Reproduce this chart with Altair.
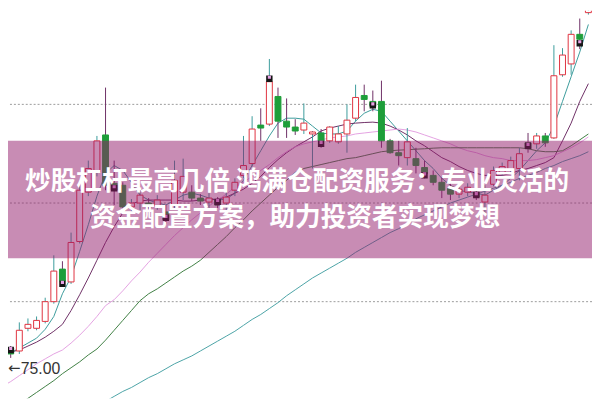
import altair as alt
import pandas as pd

# ---- data (price units; 75.00 is the marked low) ----
opens = [75.50,75.90,75.75,76.90,76.90,77.25,78.25,79.90,79.25,81.30,
         83.80,84.80,86.70,84.25,84.15,83.05,83.25,83.25,83.10,82.80,
         83.15,83.80,83.80,83.50,83.30,83.40,83.25,83.90,84.65,85.25,
         87.20,87.25,88.65,87.40,87.10,86.95,86.75,86.80,86.40,86.35,
         86.75,87.55,88.70,88.40,88.40,86.40,85.80,85.55,85.50,85.05,
         84.65,84.30,84.00,83.70,83.80,83.80,83.30,84.20,84.80,84.90,
         85.00,86.30,86.25,86.65,86.55,89.75,90.30,91.80,92.90]
closes = [75.90,75.60,76.80,77.10,77.30,78.25,79.80,79.30,81.25,83.90,
          85.00,86.40,84.15,83.90,83.05,83.25,83.65,83.05,83.40,82.40,
          84.40,84.60,83.50,83.35,83.50,83.15,83.55,84.30,85.15,87.00,
          87.05,89.40,87.40,87.10,86.90,87.30,86.85,86.40,87.10,86.75,
          87.45,88.60,88.50,88.15,86.40,85.80,85.65,86.35,85.15,84.75,
          84.30,83.90,83.70,83.95,84.05,83.55,83.65,84.90,85.10,85.40,
          85.75,86.00,86.65,86.30,89.70,90.75,91.80,91.55,93.90]
highs = [76.05,76.00,77.20,77.40,77.50,78.45,80.60,80.30,81.75,84.15,
         85.40,86.65,89.10,85.40,84.30,83.45,83.90,83.50,83.65,83.15,
         85.40,85.50,84.15,83.70,83.75,83.55,83.80,84.50,86.65,87.65,
         88.05,90.55,89.10,88.55,87.50,88.30,86.90,87.00,87.15,87.15,
         88.25,89.25,89.25,88.95,89.45,86.50,86.40,87.05,86.05,85.40,
         84.90,84.55,84.30,84.20,84.25,84.00,84.15,85.10,85.30,85.60,
         86.05,86.80,86.80,86.80,91.25,91.10,92.00,92.60,94.40]
lows = [75.00,75.40,75.60,76.75,76.80,77.15,78.15,79.00,79.15,81.20,
        83.60,84.60,83.90,83.15,82.95,82.80,82.90,82.85,82.90,82.20,
        83.00,83.40,83.35,83.15,82.90,83.00,82.90,83.60,84.50,85.10,
        86.40,87.15,86.55,86.55,86.70,86.75,85.00,86.05,86.30,86.25,
        85.80,87.40,87.90,87.90,86.05,85.75,85.15,85.15,84.75,84.50,
        84.15,83.50,83.40,83.50,83.60,83.40,82.75,84.10,84.60,84.75,
        84.40,85.80,86.00,86.10,86.50,89.65,89.75,91.05,92.80]

marker_idx = [1, 7, 13, 19, 25, 31, 37, 43, 49, 55, 61, 67]
marker_price = [75.80, 79.15, 84.00, 82.50, 83.30, 89.55, 86.25, 88.20, 84.65, 83.65, 86.15, 91.35]

ma5 = [75.55,75.65,75.90,76.15,76.40,76.85,77.50,78.65,79.50,80.80,
       82.15,83.60,84.75,85.15,84.90,84.30,83.65,83.40,83.25,83.15,
       83.40,83.65,83.75,83.65,83.50,83.40,83.45,83.75,84.40,85.15,
       85.90,86.65,87.30,87.55,87.55,87.50,87.15,86.80,86.75,86.75,
       86.90,87.40,87.80,88.00,87.90,87.40,86.90,86.40,85.90,85.40,
       85.00,84.50,84.15,83.90,83.80,83.75,83.65,83.90,84.15,84.50,
       84.90,85.40,85.90,86.30,87.15,88.40,89.65,90.90,92.30]
ma10 = [75.60,75.70,75.80,76.00,76.20,76.45,76.75,77.10,77.80,78.60,
        79.45,80.35,81.25,82.05,82.75,83.20,83.35,83.40,83.40,83.40,
        83.40,83.35,83.35,83.40,83.40,83.45,83.55,83.75,83.95,84.25,
        84.60,85.05,85.45,85.80,86.10,86.35,86.60,86.90,87.05,87.15,
        87.25,87.30,87.33,87.35,87.30,87.15,86.95,86.70,86.40,86.15,
        85.85,85.55,85.35,85.10,84.90,84.75,84.65,84.65,84.65,84.75,
        84.90,85.00,85.15,85.30,85.55,86.40,87.30,88.40,89.30]
ma20 = [73.95,74.20,74.50,74.80,75.10,75.35,75.60,75.80,76.15,76.55,
        77.00,77.50,78.05,78.35,78.80,79.30,79.75,80.25,80.70,81.15,
        81.60,82.00,82.40,82.75,83.10,83.40,83.70,84.05,84.30,84.60,
        84.90,85.20,85.55,85.85,86.10,86.25,86.35,86.45,86.55,86.60,
        86.65,86.75,86.80,86.85,86.90,86.95,87.00,86.95,86.85,86.70,
        86.55,86.40,86.25,86.05,85.90,85.80,85.65,85.55,85.50,85.40,
        85.40,85.40,85.45,85.55,85.65,85.85,86.05,86.30,86.60]
ma30 = [72.40,72.70,73.05,73.35,73.65,73.95,74.25,74.60,74.90,75.20,
        75.55,75.85,76.30,76.80,77.30,77.80,78.30,78.65,78.90,79.20,
        79.50,79.80,80.05,80.35,80.75,81.15,81.55,82.00,82.40,82.85,
        83.25,83.65,84.05,84.40,84.80,85.00,85.10,85.20,85.30,85.40,
        85.50,85.55,85.65,85.75,85.85,85.90,85.93,85.95,85.98,86.00,
        86.03,86.05,86.05,86.05,86.05,86.05,86.05,86.05,86.05,86.05,
        86.05,86.00,85.90,85.85,85.85,85.90,86.15,86.45,86.75]
ma60 = [None] * 11 + [
        73.00,73.20,73.45,73.70,73.90,74.15,74.40,74.60,74.85,75.10,
        75.30,75.50,75.75,76.00,76.25,76.50,76.75,77.05,77.35,77.60,
        77.90,78.20,78.55,78.85,79.15,79.45,79.70,79.95,80.20,80.45,
        80.75,81.00,81.25,81.50,81.75,81.95,82.20,82.45,82.65,82.85,
        83.05,83.25,83.40,83.55,83.70,83.85,84.00,84.15,84.30,84.50,
        84.65,84.80,85.00,85.15,85.35,85.50,85.65,85.85]

grid_prices = [93.25, 88.25, 83.25, 78.25]
low_label = "75.00"
title_lines = ["炒股杠杆最高几倍 鸿满仓配资服务：专业灵活的", "资金配置方案，助力投资者实现梦想"]

# ---- frames ----
n = len(opens)
idx = list(range(n))
candles = pd.DataFrame({"i": idx, "open": opens, "close": closes,
                        "high": highs, "low": lows})
candles["dir"] = ["up" if c >= o else "down" for o, c in zip(opens, closes)]

series = {"MA5": ma5, "MA10": ma10, "MA20": ma20, "MA30": ma30, "MA60": ma60}
rows = []
for name, vals in series.items():
    for i, v in enumerate(vals):
        if v is not None:
            rows.append({"i": i, "v": v, "s": name})
lines = pd.DataFrame(rows)
markers = pd.DataFrame({"i": marker_idx, "p": marker_price})
grid = pd.DataFrame({"p": grid_prices})
lowdf = pd.DataFrame({"i": [0], "p": [75.00], "t": [low_label]})

W, H = 592, 393
xs = alt.Scale(domain=[0.6865, 68.42], nice=False, zero=False, padding=0)
ys = alt.Scale(domain=[93.0 - H / 20.0, 93.0], nice=False, zero=False, padding=0)
X = alt.X("i:Q", scale=xs, axis=None)

gridl = alt.Chart(grid).mark_rule(color="#9a9a9a", strokeDash=[2, 2], strokeWidth=1).encode(
    y=alt.Y("p:Q", scale=ys, axis=None))

ma_colors = alt.Scale(domain=["MA5", "MA10", "MA20", "MA30", "MA60"],
                      range=["#3b9b9b", "#6e2f66", "#e4a2e2", "#3f7f43", "#4aa3a6"])
line_layer = alt.Chart(lines).mark_line(strokeWidth=1, clip=True).encode(
    x=X, y=alt.Y("v:Q", scale=ys, axis=None),
    color=alt.Color("s:N", scale=ma_colors, legend=None), detail="s:N")

cstroke = alt.Scale(domain=["up", "down"], range=["#e0323f", "#1e9e3a"])
cfill = alt.Scale(domain=["up", "down"], range=["#ffffff", "#1e9e3a"])
wick = alt.Chart(candles).mark_rule(strokeWidth=1, clip=True).encode(
    x=X, y=alt.Y("low:Q", scale=ys, axis=None), y2="high:Q",
    color=alt.Color("dir:N", scale=cstroke, legend=None))
body = alt.Chart(candles).mark_bar(size=6, strokeWidth=1, clip=True).encode(
    x=X, y=alt.Y("open:Q", scale=ys, axis=None), y2="close:Q",
    fill=alt.Fill("dir:N", scale=cfill, legend=None),
    stroke=alt.Stroke("dir:N", scale=cstroke, legend=None))

mk1 = alt.Chart(markers).mark_square(size=42, color="#151515", opacity=1, clip=True).encode(
    x=X, y=alt.Y("p:Q", scale=ys, axis=None))
mk2 = alt.Chart(markers).mark_square(size=10, color="#e9a3e6", opacity=1, yOffset=-1.5, clip=True).encode(
    x=X, y=alt.Y("p:Q", scale=ys, axis=None))

arrow = alt.Chart(lowdf).mark_text(text="←", font="DejaVu Sans", fontSize=15, color="#333333",
                                   align="left", baseline="middle", dx=6, dy=2).encode(
    x=X, y=alt.Y("p:Q", scale=ys, axis=None))
lowtxt = alt.Chart(lowdf).mark_text(font="Liberation Sans", fontSize=16, color="#333333",
                                    align="left", baseline="middle", dx=19, dy=3).encode(
    x=X, y=alt.Y("p:Q", scale=ys, axis=None), text="t:N")

banner = alt.Chart(grid.head(1)).mark_rect(color="#911969", opacity=0.5).encode(
    x=alt.value(-10), x2=alt.value(W + 10), y=alt.value(132), y2=alt.value(251))

tdf = pd.DataFrame({"t": title_lines, "k": [0, 1]})
t1 = alt.Chart(tdf.head(1)).mark_text(font="Noto Sans CJK SC", fontWeight="bold", fontSize=26,
                                      color="white", align="center", baseline="middle").encode(
    x=alt.value(293), y=alt.value(174), text="t:N")
t2 = alt.Chart(tdf.tail(1)).mark_text(font="Noto Sans CJK SC", fontWeight="bold", fontSize=26,
                                      color="white", align="center", baseline="middle").encode(
    x=alt.value(291), y=alt.value(210), text="t:N")

chart = alt.layer(gridl, line_layer, wick, body, mk1, mk2, arrow, lowtxt, banner, t1, t2).properties(
    width=W, height=H, padding=0, autosize=alt.AutoSizeParams(type="none"),
    background="white"
).configure_view(stroke=None)

chart.save("out.html", embed_options={"renderer": "svg", "actions": False})
